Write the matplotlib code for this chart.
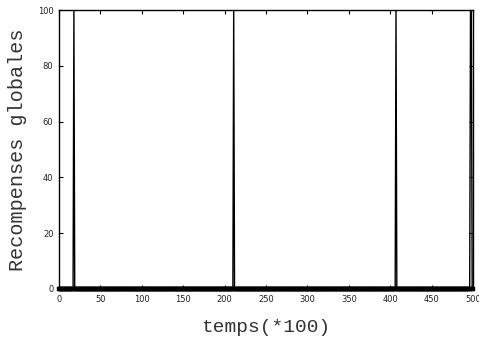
import matplotlib
matplotlib.use('Agg')
import matplotlib.pyplot as plt
import numpy as np

# temps (en centaines de pas) et instants où la récompense globale vaut 100
temps = np.arange(0, 501)
pics = [18, 211, 407, 497, 498]
valeur_pic = 100

recompenses = np.zeros(len(temps))
for p in pics:
    recompenses[p] = valeur_pic

fig = plt.figure(figsize=(4.79, 3.39), dpi=100)
ax = fig.add_axes([59 / 479, 1 - 289 / 339, (473 - 59) / 479, (289 - 10) / 339])

ax.plot(temps, recompenses, color='black', linewidth=1.0)
# points le long de l'axe (bande épaisse en bas)
nuls = recompenses == 0
ax.plot(temps[nuls], recompenses[nuls], linestyle='none', color='black',
        marker='s', markersize=2.4, markeredgewidth=0.3, clip_on=False)

ax.set_xlim(0, 500)
ax.set_ylim(0, 100)
ax.set_xticks(np.arange(0, 501, 50))
ax.set_yticks(np.arange(0, 101, 20))
ax.tick_params(direction='in', top=True, right=True, length=3, width=0.8,
               labelsize=6, pad=4, labelcolor='#222222')
for s in ax.spines.values():
    s.set_linewidth(1.0)

ax.set_xlabel('temps(*100)', family='Liberation Mono', fontsize=14,
              labelpad=11, color='#333333')
ax.set_ylabel('Recompenses globales', family='Liberation Mono', fontsize=14.5,
              labelpad=8, color='#333333')

fig.savefig('out.png', dpi=100)
